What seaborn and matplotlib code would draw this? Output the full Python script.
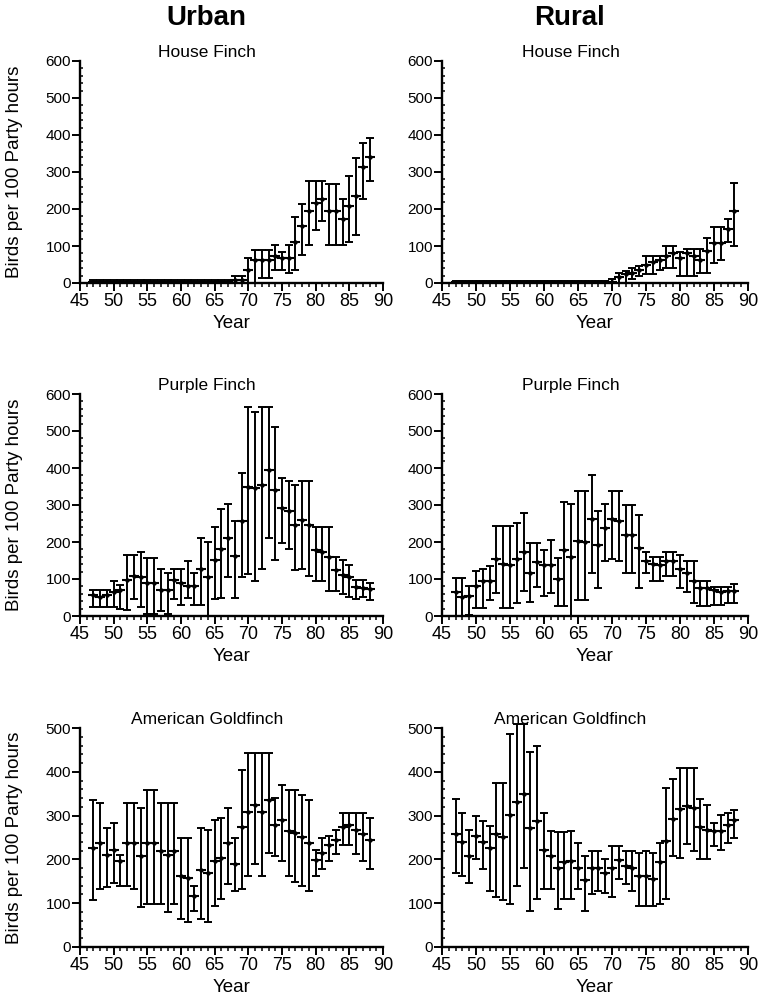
import numpy as np
import pandas as pd
import matplotlib
matplotlib.use("Agg")
import matplotlib.pyplot as plt
from matplotlib.ticker import MultipleLocator
import seaborn as sns

years = list(range(47, 89))

# Urban House Finch
UH_mean = [3, 2, 2, 3, 3, 2, 3, 3, 3, 3, 3, 3, 3, 3, 3, 3, 3, 3, 3, 4, 4, 8, 8,
           36, 63, 63, 63, 74, 68, 68, 110, 153, 194, 216, 227, 194, 194, 173, 207, 234, 314, 340]
UH_lo = [0] * 23 + [0, 0, 14, 14, 34, 34, 27, 34, 77, 102, 144, 167, 102, 102, 102, 111, 129, 227, 275]
UH_hi = [8] * 21 + [20, 20] + [68, 88, 88, 88, 102, 83, 102, 178, 214, 275, 275, 275, 268, 268, 228, 290, 338, 378, 392]

# Rural House Finch
RH_mean = [2, 3, 2, 2, 3, 2, 3, 2, 3, 2, 3, 2, 3, 2, 3, 2, 3, 2, 3, 2, 3, 3, 3, 3,
           16, 23, 27, 36, 50, 56, 63, 74, 81, 68, 81, 72, 63, 86, 108, 108, 145, 195]
RH_lo = [0] * 24 + [0, 0, 10, 18, 23, 23, 36, 41, 41, 20, 20, 20, 27, 27, 54, 63, 111, 100]
RH_hi = [6] * 23 + [10] + [27, 32, 40, 45, 72, 72, 72, 100, 100, 84, 92, 92, 92, 122, 150, 150, 172, 270]

# Urban Purple Finch
UP_mean = [58, 52, 56, 65, 70, 97, 108, 106, 88, 88, 71, 71, 97, 88, 80, 80, 128, 106, 151, 180, 211,
           162, 257, 348, 345, 354, 394, 340, 292, 284, 245, 259, 245, 178, 172, 160, 124, 110, 106, 79, 77, 74]
UP_lo = [24, 23, 23, 23, 20, 15, 47, 23, 6, 6, 14, 6, 47, 29, 50, 29, 29, 0, 47, 50, 106,
         50, 106, 113, 94, 128, 212, 151, 197, 180, 124, 128, 108, 94, 94, 68, 68, 60, 51, 47, 51, 44]
UP_hi = [71, 70, 70, 94, 83, 165, 165, 172, 157, 157, 128, 117, 128, 128, 148, 117, 211, 200, 240, 290, 302,
         257, 387, 566, 552, 566, 566, 511, 372, 366, 355, 366, 366, 240, 240, 240, 160, 151, 137, 97, 97, 88]

# Rural Purple Finch
RP_mean = [64, 52, 53, 81, 95, 95, 155, 141, 137, 153, 174, 115, 146, 137, 137, 100, 179, 160, 202, 199, 262,
           192, 238, 262, 257, 219, 219, 183, 148, 141, 137, 148, 149, 127, 115, 95, 75, 75, 69, 64, 67, 67]
RP_lo = [0, 0, 2, 21, 21, 44, 63, 21, 21, 35, 68, 37, 78, 55, 63, 28, 28, 0, 44, 44, 115,
         75, 150, 155, 150, 115, 115, 75, 115, 95, 95, 109, 109, 75, 65, 35, 28, 28, 30, 30, 35, 35]
RP_hi = [104, 104, 80, 121, 128, 134, 243, 243, 243, 252, 278, 197, 197, 178, 206, 158, 308, 302, 337, 337, 380,
         284, 302, 337, 337, 300, 300, 273, 174, 160, 160, 174, 174, 165, 150, 150, 95, 95, 78, 78, 78, 86]

# Urban American Goldfinch
UG_mean = [226, 238, 211, 221, 196, 238, 238, 208, 238, 238, 219, 211, 219, 162, 157, 117, 175, 170, 196, 204, 238,
           190, 275, 309, 325, 309, 336, 279, 291, 264, 260, 251, 238, 198, 215, 234, 245, 275, 279, 266, 257, 244]
UG_lo = [107, 132, 136, 147, 140, 140, 132, 91, 98, 98, 98, 79, 98, 64, 57, 83, 64, 57, 94, 109, 143,
         128, 132, 162, 190, 162, 215, 208, 196, 162, 149, 140, 128, 162, 177, 196, 213, 232, 234, 213, 196, 177]
UG_hi = [336, 328, 272, 283, 211, 328, 328, 318, 358, 358, 328, 328, 328, 249, 249, 140, 272, 266, 291, 294, 318,
         249, 403, 442, 444, 442, 444, 341, 370, 358, 358, 346, 336, 221, 249, 254, 266, 306, 306, 306, 306, 294]

# Rural American Goldfinch
RG_mean = [258, 239, 208, 253, 239, 227, 258, 252, 302, 332, 349, 272, 287, 221, 208, 181, 195, 197, 181, 152, 181,
           181, 170, 181, 198, 185, 181, 161, 161, 155, 195, 242, 292, 315, 322, 318, 274, 268, 264, 264, 279, 291]
RG_lo = [168, 161, 145, 200, 177, 127, 114, 108, 98, 140, 180, 82, 110, 132, 132, 86, 110, 110, 132, 82, 121,
         128, 123, 115, 155, 143, 127, 93, 93, 93, 98, 110, 208, 204, 235, 219, 202, 202, 231, 221, 238, 249]
RG_hi = [337, 306, 268, 300, 287, 277, 374, 374, 486, 509, 509, 445, 458, 306, 265, 262, 262, 265, 238, 208, 219,
         219, 200, 230, 230, 219, 219, 215, 219, 215, 238, 364, 383, 408, 408, 408, 337, 325, 283, 302, 306, 313]

panels = [
    ("House Finch", UH_mean, UH_lo, UH_hi, RH_mean, RH_lo, RH_hi, 600),
    ("Purple Finch", UP_mean, UP_lo, UP_hi, RP_mean, RP_lo, RP_hi, 600),
    ("American Goldfinch", UG_mean, UG_lo, UG_hi, RG_mean, RG_lo, RG_hi, 500),
]

sns.set_theme(style="ticks")
plt.rcParams['font.family'] = ['Liberation Sans', 'DejaVu Sans']
plt.rcParams['text.color'] = 'black'
plt.rcParams['axes.labelcolor'] = 'black'
plt.rcParams['xtick.color'] = 'black'
plt.rcParams['ytick.color'] = 'black'

fig = plt.figure(figsize=(7.63, 10.01), dpi=100)
W, H = 763.0, 1001.0
col_left = [80, 442]
col_width = [303, 306]
row_top = [61, 394, 728]
row_bot = [283, 616, 947]


def draw(ax, mean, lo, hi, ymax, title, ylabel):
    df = pd.DataFrame({"Year": years, "Birds": mean, "lo": lo, "hi": hi})
    yerr = np.vstack([df["Birds"] - df["lo"], df["hi"] - df["Birds"]])
    ax.errorbar(df["Year"], df["Birds"], yerr=yerr, fmt="none", ecolor="black",
                elinewidth=1.4, capsize=3.2, capthick=1.4, zorder=2, clip_on=False)
    sns.scatterplot(data=df, x="Year", y="Birds", ax=ax, marker="_", s=42,
                    color="black", linewidth=1.5, zorder=3, legend=False)
    sns.scatterplot(data=df, x="Year", y="Birds", ax=ax, marker="o", s=10,
                    color="black", linewidth=0, zorder=4, legend=False)
    ax.set_xlim(45, 90)
    ax.set_ylim(0, ymax)
    ax.xaxis.set_major_locator(MultipleLocator(5))
    ax.xaxis.set_minor_locator(MultipleLocator(1))
    ax.yaxis.set_major_locator(MultipleLocator(100))
    ax.yaxis.set_minor_locator(MultipleLocator(20))
    ax.tick_params(axis="x", which="major", direction="out", length=5.5, width=1.4,
                   labelsize=13, pad=1.5)
    ax.tick_params(axis="x", which="minor", direction="out", length=3, width=1.1)
    ax.tick_params(axis="y", which="major", direction="out", length=5.5, width=1.4,
                   labelsize=11, pad=1)
    ax.tick_params(axis="y", which="minor", direction="in", length=2.5, width=1.1)
    for s in ["top", "right"]:
        ax.spines[s].set_visible(False)
    for s in ["left", "bottom"]:
        ax.spines[s].set_linewidth(1.7)
        ax.spines[s].set_color("black")
    ax.set_xlabel("Year", fontsize=13.5, labelpad=4)
    if ylabel:
        ax.set_ylabel("Birds per 100 Party hours", fontsize=13.5)
        ax.yaxis.set_label_coords(-57 / 303.0, 0.5)
    else:
        ax.set_ylabel("")
    ax.set_title(title, fontsize=12.5, x=0.42, pad=3)
    ax.set_facecolor("white")


for r, (title, um, ul, uh, rm, rl, rh, ymax) in enumerate(panels):
    for c, (m, lo, hi) in enumerate([(um, ul, uh), (rm, rl, rh)]):
        ax = fig.add_axes([col_left[c] / W, 1 - row_bot[r] / H, col_width[c] / W,
                           (row_bot[r] - row_top[r]) / H])
        draw(ax, m, lo, hi, ymax, title, c == 0)

fig.text(206 / W, 1 - 18 / H, "Urban", fontsize=20, fontweight="bold", ha="center", va="center")
fig.text(570 / W, 1 - 18 / H, "Rural", fontsize=20, fontweight="bold", ha="center", va="center")

fig.savefig("out.png", dpi=100, facecolor="white")
